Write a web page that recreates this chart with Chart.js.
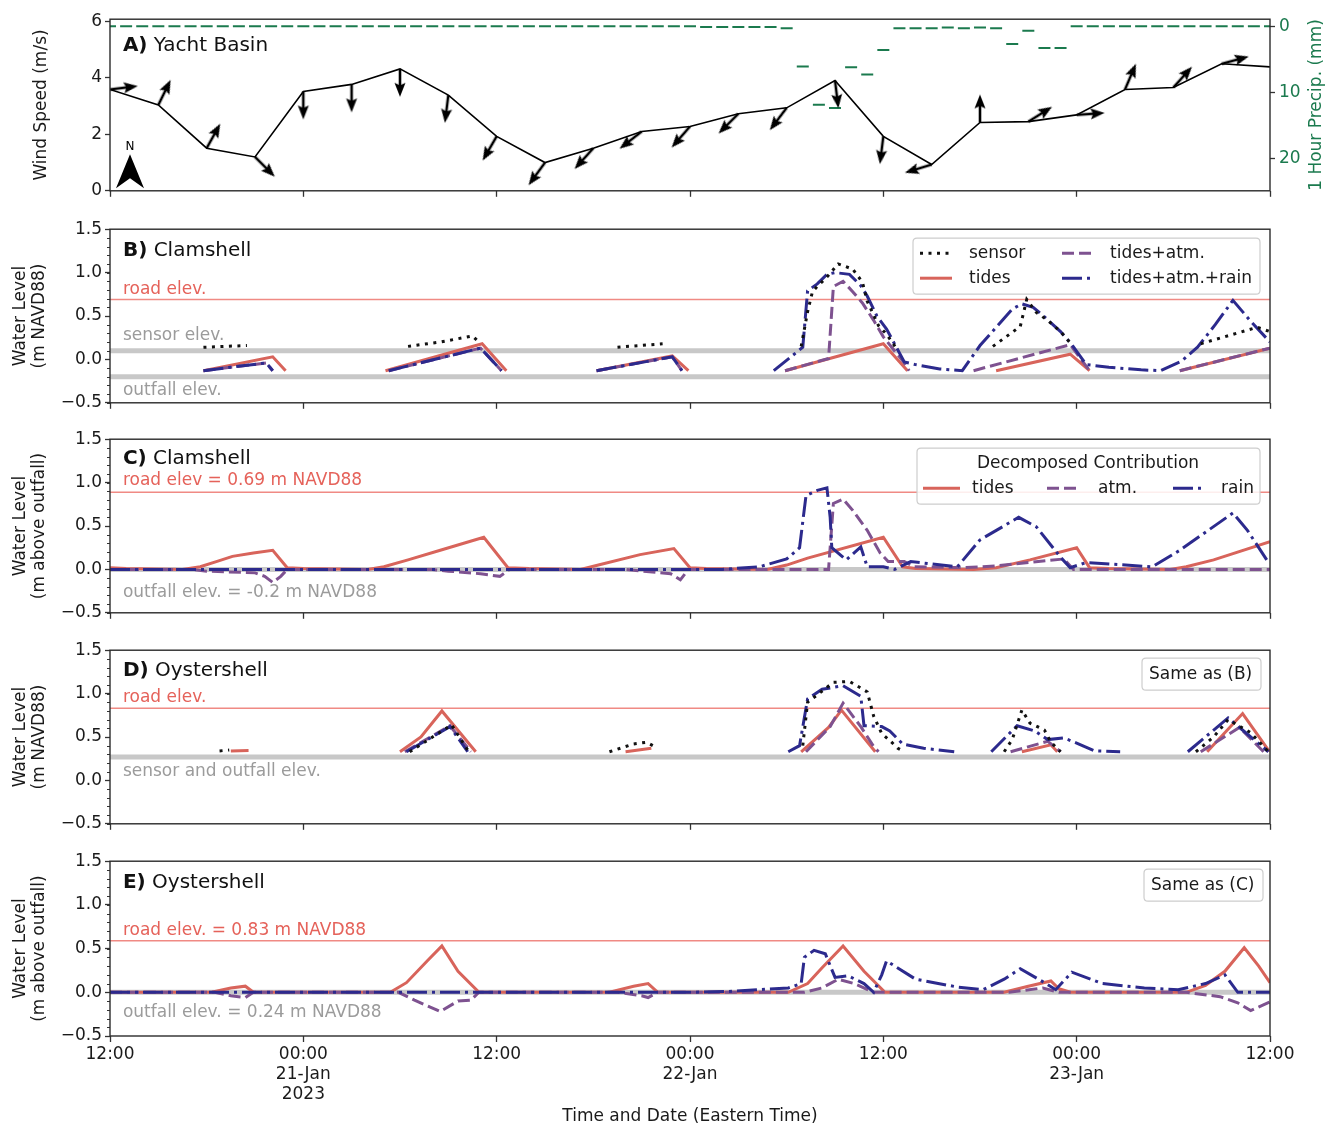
<!DOCTYPE html>
<html>
<head>
<meta charset="utf-8">
<title>Yacht Basin / Clamshell / Oystershell water levels</title>
<script src="https://cdn.jsdelivr.net/npm/chart.js@4.4.1/dist/chart.umd.min.js"></script>
<style>
  body { margin: 0; background: #fff; }
  #wrap { position: relative; width: 1327px; height: 1127px; overflow: hidden; }
  #wrap canvas { position: absolute; left: 0; }
</style>
</head>
<body>
<div id="wrap">
  <canvas id="panelA" width="1327" height="200" style="top:5px"></canvas>
  <canvas id="panelB" width="1327" height="200" style="top:216px"></canvas>
  <canvas id="panelC" width="1327" height="200" style="top:426px"></canvas>
  <canvas id="panelD" width="1327" height="200" style="top:637px"></canvas>
  <canvas id="panelE" width="1327" height="279" style="top:848px"></canvas>
</div>
<script>
// ---------- data (hours since 12:00 20-Jan-2023) ----------

var xTicks = [0, 12, 24, 36, 48, 60, 72];
var xTickLabels = [['12:00'], ['00:00', '21-Jan', '2023'], ['12:00'], ['00:00', '22-Jan'], ['12:00'], ['00:00', '23-Jan'], ['12:00']];
var windTicks = [0, 2, 4, 6];
var precipTicks = [0, 10, 20];
var levelTicks = [-0.5, 0, 0.5, 1, 1.5];

// panel A - wind every 3 h, direction the arrow points to (deg clockwise from north)
var windTimes = [0, 3, 6, 9, 12, 15, 18, 21, 24, 27, 30, 33, 36, 39, 42, 45, 48, 51, 54, 57, 60, 63, 66, 69, 72];
var windSpeed = [3.59, 3.04, 1.51, 1.20, 3.52, 3.77, 4.32, 3.39, 1.93, 1.00, 1.51, 2.10, 2.28, 2.73, 2.94, 3.91, 1.93, 0.93, 2.42, 2.45, 2.69, 3.59, 3.66, 4.50, 4.39];
var windDir = [83, 26, 29, 135, 180, 180, 180, 187, 210, 216, 222, 232, 221, 225, 217, 173, 187, 253, 0, 58, 86, 23, 42, 75, null];

// hourly precipitation (mm), h0..h72
var precipHours = [];
for (var h = 0; h <= 72; h++) precipHours.push(h);
var precip = [0, 0, 0, 0, 0, 0, 0, 0, 0, 0, 0, 0, 0, 0, 0, 0, 0, 0, 0, 0,
  0, 0, 0, 0, 0, 0, 0, 0, 0, 0, 0, 0, 0, 0, 0, 0, 0,
  0.1, 0.1, 0.1, 0.1, 0.1, 0.3, 6.1, 11.9, 12.4, 6.2, 7.3, 3.6,
  0.3, 0.3, 0.3, 0.2, 0.3, 0.2, 0.3, 2.7, 0.7, 3.3, 3.3,
  0, 0, 0, 0, 0, 0, 0, 0, 0, 0, 0, 0, 0];

// reference elevations
var roadB = 0.69, sensorB = 0.10, outfallB = -0.2;
var roadC = 0.89, outfallC = 0;
var roadD = 0.83, sensorD = 0.27;
var roadE = 0.59, outfallE = 0;

// panel B - Clamshell, m NAVD88  [hour, level]
var bSensor = [[5.8, 0.14], [8.5, 0.16], [9, null], [18.5, 0.15], [20.5, 0.2], [22.5, 0.27], [22.9, 0.2], [23, null],
  [31.5, 0.14], [34.3, 0.18], [35, null], [42.9, 0.15], [43.3, 0.55], [43.6, 0.78], [43.9, 0.84], [44.5, 0.95],
  [45.2, 1.10], [46.1, 1.04], [46.7, 0.89], [47.0, 0.67], [47.7, 0.39], [48.2, 0.29], [48.8, 0.13], [49, null],
  [54.8, 0.15], [56.5, 0.38], [56.9, 0.69], [57.5, 0.54], [58.2, 0.45], [59.0, 0.32], [59.7, 0.17], [60, null],
  [67.7, 0.18], [71.2, 0.37], [72, 0.32]];
var bTides = [[5.8, -0.13], [10.1, 0.03], [10.9, -0.13], [11, null], [17.1, -0.13], [23.1, 0.18], [24.6, -0.13], [25, null],
  [30.2, -0.13], [34.9, 0.04], [35.9, -0.13], [36, null], [41.9, -0.13], [48.0, 0.18], [49.5, -0.13], [50, null],
  [55.0, -0.13], [59.6, 0.06], [60.8, -0.13], [61, null], [66.4, -0.13], [72, 0.13]];
var bAtm = [[5.8, -0.13], [9.7, -0.04], [10.1, -0.13], [11, null], [17.3, -0.13], [23.0, 0.13], [24.3, -0.13], [25, null],
  [30.2, -0.13], [34.9, 0.03], [35.5, -0.13], [36, null], [41.9, -0.13], [44.6, 0.01], [44.9, 0.84], [45.5, 0.90],
  [46.1, 0.78], [46.7, 0.65], [47.4, 0.45], [48.0, 0.26], [49.3, -0.04], [49.6, -0.13], [50, null],
  [53.6, -0.13], [59.6, 0.17], [60.8, -0.13], [61, null], [66.4, -0.13], [72, 0.13]];
var bRain = [[5.8, -0.13], [9.7, -0.04], [10.1, -0.13], [11, null], [17.3, -0.13], [23.0, 0.13], [24.3, -0.13], [25, null],
  [30.2, -0.13], [34.9, 0.03], [35.5, -0.13], [36, null], [41.2, -0.13], [43.0, 0.14], [43.3, 0.79], [43.9, 0.87],
  [44.5, 0.98], [45.0, 1.0], [45.9, 0.98], [46.6, 0.85], [47.0, 0.73], [47.6, 0.50], [48.2, 0.35], [49.3, -0.03],
  [50.0, -0.06], [51.5, -0.11], [52.9, -0.13], [54.0, 0.16], [55.0, 0.37], [56.0, 0.58], [56.6, 0.64], [57.3, 0.60],
  [58.0, 0.49], [59.0, 0.32], [59.7, 0.17], [60.6, -0.06], [62.0, -0.09], [64.0, -0.12], [65.2, -0.13], [66.5, -0.02],
  [67.5, 0.14], [68.6, 0.40], [69.7, 0.68], [70.8, 0.44], [72, 0.20]];

// panel C - Clamshell decomposed, m above outfall
var cTides = [[0, 0.02], [1, 0.01], [4.5, 0.0], [5.6, 0.03], [6.6, 0.09], [7.6, 0.15], [8.9, 0.19], [10.1, 0.22], [11.0, 0.02],
  [12, 0.01], [16, 0.0], [17, 0.03], [18.5, 0.11], [20.5, 0.22], [23.2, 0.37], [24.7, 0.02], [26, 0.01], [29.2, 0.0],
  [30.5, 0.06], [32.9, 0.17], [35, 0.24], [36, 0.02], [37, 0.01], [40.8, 0.0], [42, 0.05], [43.3, 0.13], [48, 0.37],
  [49.2, 0.03], [50, 0.01], [53.6, 0.0], [55, 0.02], [57.1, 0.11], [60, 0.25], [60.8, 0.02], [62, 0.01], [65.8, 0.0],
  [66.8, 0.03], [68.5, 0.11], [72, 0.32]];
var cAtm = [[0, 0.0], [5, 0.0], [6, -0.02], [9, -0.04], [9.6, -0.08], [10.1, -0.15], [10.6, -0.08], [11, 0.0], [20, 0.0],
  [21, -0.02], [23, -0.05], [24.2, -0.08], [24.8, 0.0], [32, 0.0], [33, -0.02], [34.8, -0.05], [35.4, -0.12], [35.9, 0.0],
  [44.6, 0.0], [44.9, 0.76], [45.5, 0.81], [46.1, 0.68], [47.0, 0.45], [47.8, 0.19], [48.3, 0.09], [49.3, 0.09],
  [49.9, 0.03], [53, 0.02], [55, 0.04], [57, 0.08], [59.2, 0.12], [59.8, 0.0], [72, 0.0]];
var cRain = [[0, 0.0], [38, 0.0], [40.3, 0.03], [42, 0.12], [42.8, 0.25], [43.0, 0.55], [43.2, 0.85], [43.9, 0.91],
  [44.5, 0.94], [44.7, 0.6], [44.8, 0.25], [45.7, 0.11], [46.6, 0.26], [47.0, 0.03], [48.0, 0.03], [48.7, 0.0],
  [49.7, 0.09], [52.6, 0.03], [54.0, 0.34], [56.4, 0.60], [57.5, 0.49], [59.0, 0.14], [59.6, 0.02], [60.6, 0.08],
  [64.7, 0.03], [66.4, 0.22], [69.7, 0.65], [70.6, 0.45], [71.9, 0.08], [72, 0.07]];

// panel D - Oystershell, m NAVD88
var dSensor = [[6.8, 0.34], [7.4, 0.35], [8, null], [18.6, 0.33], [21.2, 0.64], [22.2, 0.35], [23, null],
  [31.0, 0.33], [32.5, 0.42], [33.3, 0.44], [33.7, 0.40], [34, null], [43.0, 0.40], [43.3, 0.90], [44.9, 1.13],
  [45.9, 1.14], [47.0, 1.02], [47.4, 0.74], [47.9, 0.54], [48.4, 0.46], [48.9, 0.37], [49.3, 0.33], [50, null],
  [55.5, 0.33], [56.0, 0.47], [56.6, 0.81], [57.1, 0.66], [58.0, 0.58], [58.4, 0.44], [59.0, 0.33], [60, null],
  [67.4, 0.33], [68.5, 0.50], [69.4, 0.70], [70.8, 0.55], [71.9, 0.33]];
var dTides = [[7.5, 0.34], [8.6, 0.345], [9, null], [18.0, 0.33], [19.3, 0.50], [20.6, 0.80], [22.7, 0.33], [23, null],
  [32.0, 0.33], [33.6, 0.37], [34, null], [42.9, 0.33], [44.6, 0.61], [45.4, 0.81], [47.5, 0.33], [48, null],
  [56.6, 0.33], [58.4, 0.41], [58.8, 0.33], [59, null], [68.1, 0.33], [70.3, 0.77], [71.9, 0.35], [72, 0.34]];
var dAtm = [[18.3, 0.33], [21.1, 0.63], [22.4, 0.33], [23, null], [43.2, 0.33], [44.7, 0.62], [45.5, 0.89], [46.6, 0.62],
  [47.4, 0.39], [47.7, 0.33], [48, null], [55.9, 0.33], [58.2, 0.45], [58.7, 0.38], [59.0, 0.33], [60, null],
  [67.7, 0.33], [70.1, 0.61], [71.6, 0.33]];
var dRain = [[18.4, 0.33], [21.1, 0.62], [22.2, 0.33], [23, null], [42.1, 0.33], [42.8, 0.40], [43.3, 0.94], [44.2, 1.05],
  [45.5, 1.09], [46.6, 0.97], [46.8, 0.63], [47.9, 0.62], [48.4, 0.57], [49.2, 0.42], [50.5, 0.37], [52.4, 0.33], [53, null],
  [54.7, 0.33], [56.3, 0.63], [57.4, 0.57], [58.2, 0.47], [59.2, 0.49], [60.0, 0.43], [61.1, 0.34], [62.7, 0.33], [63, null],
  [66.9, 0.33], [69.4, 0.72], [71.9, 0.33]];

// panel E - Oystershell decomposed, m above outfall
var eTides = [[0, 0], [6.3, 0], [7.5, 0.05], [8.4, 0.07], [8.9, 0], [17.4, 0], [18.4, 0.11], [19.7, 0.36], [20.6, 0.53],
  [21.6, 0.24], [22.9, 0], [31.0, 0], [32.5, 0.07], [33.4, 0.10], [34.0, 0], [42.1, 0], [43.3, 0.1], [44.2, 0.28],
  [45.5, 0.53], [46.8, 0.24], [48.1, 0], [55.5, 0], [57.0, 0.07], [58.4, 0.13], [58.9, 0.04], [59.6, 0], [66.8, 0],
  [68.0, 0.08], [69.2, 0.24], [70.4, 0.51], [71.3, 0.3], [72, 0.11]];
var eAtm = [[0, 0], [6.5, 0], [7.5, -0.04], [8.4, -0.06], [8.9, 0], [17.9, 0], [18.9, -0.09], [20.5, -0.22], [21.6, -0.1],
  [22.4, -0.09], [22.9, 0], [31.5, 0], [33.0, -0.04], [33.4, -0.06], [34.0, 0], [43.1, 0], [44.2, 0.05], [45.2, 0.15],
  [46.2, 0.1], [47.4, 0], [55.8, 0], [57.9, 0.05], [58.9, 0], [66.8, 0], [68.9, -0.05], [70.0, -0.12], [70.8, -0.21], [72, -0.11]];
var eRain = [[0, 0], [36, 0], [38.4, 0.01], [42.1, 0.05], [42.9, 0.1], [43.1, 0.4], [43.7, 0.48], [44.4, 0.44], [45.0, 0.17],
  [45.8, 0.19], [46.8, 0.1], [47.4, 0.0], [47.9, 0.2], [48.2, 0.36], [50.0, 0.15], [52.6, 0.06], [54.2, 0.03], [55.5, 0.15],
  [56.5, 0.27], [58.1, 0.1], [58.7, 0.03], [59.7, 0.23], [61.6, 0.1], [64.2, 0.05], [66.3, 0.03], [68.0, 0.1], [69.2, 0.2],
  [70.0, 0.0], [72, 0.0]];

// ---------- styles ----------
Chart.defaults.font.family = '"DejaVu Sans", sans-serif';
Chart.defaults.font.size = 17;
Chart.defaults.color = '#1a1a1a';

var green = '#1b7a4e';
var roadColor = '#f08a84', roadText = '#e5625a', grayLine = '#c8c8c8', grayText = '#9b9b9b';
var styles = {
  sensor: { color: '#111111', width: 3, dash: [3, 5.5] },
  tides: { color: '#d8645b', width: 3, dash: [] },
  atm: { color: '#7e5290', width: 3, dash: [12, 5] },
  rain: { color: '#2c2a8d', width: 3, dash: [20, 5, 3, 5] }
};

function pts(arr) {
  return arr.map(function (p) { return { x: p[0], y: p[1] }; });
}

function fmtLevel(v) {
  return (v < 0 ? '\u2212' : '') + Math.abs(v).toFixed(1);
}

function series(arr, st, order) {
  return { data: pts(arr), borderColor: st.color, borderWidth: st.width, borderDash: st.dash,
    pointRadius: 0, order: order };
}

function flat(v, color, width) {
  return { data: [{ x: 0, y: v }, { x: 72, y: v }], borderColor: color, borderWidth: width, pointRadius: 0, order: 10 };
}

// arrow drawn from the centre of a small canvas, pointing up; rotated per point by Chart.js
function arrowImage() {
  var c = document.createElement('canvas');
  c.width = 64; c.height = 64;
  var g = c.getContext('2d');
  g.strokeStyle = '#000';
  g.fillStyle = '#000';
  g.lineWidth = 2.6;
  g.beginPath(); g.moveTo(32, 32); g.lineTo(32, 15); g.stroke();
  g.beginPath();
  g.moveTo(32, 4); g.lineTo(26.5, 18); g.lineTo(32, 15.5); g.lineTo(37.5, 18);
  g.closePath(); g.fill();
  return c;
}
var arrow = arrowImage();

function roundBox(ctx, x, y, w, h, r) {
  ctx.beginPath();
  ctx.moveTo(x + r, y);
  ctx.lineTo(x + w - r, y); ctx.quadraticCurveTo(x + w, y, x + w, y + r);
  ctx.lineTo(x + w, y + h - r); ctx.quadraticCurveTo(x + w, y + h, x + w - r, y + h);
  ctx.lineTo(x + r, y + h); ctx.quadraticCurveTo(x, y + h, x, y + h - r);
  ctx.lineTo(x, y + r); ctx.quadraticCurveTo(x, y, x + r, y);
  ctx.closePath();
}

function drawLegend(ctx, a, lg) {
  var y0 = a.top, b = lg.box;
  ctx.fillStyle = 'rgba(255,255,255,0.85)';
  ctx.strokeStyle = '#cdcdcd';
  ctx.lineWidth = 1.2;
  roundBox(ctx, b[0], y0 + b[1], b[2] - b[0], b[3] - b[1], 4);
  ctx.fill(); ctx.stroke();
  ctx.font = '17px "DejaVu Sans"';
  ctx.textBaseline = 'middle';
  if (lg.title) {
    ctx.fillStyle = '#1a1a1a';
    ctx.textAlign = 'center';
    ctx.fillText(lg.title.text, lg.title.x, y0 + lg.title.y);
  }
  ctx.textAlign = 'left';
  (lg.items || []).forEach(function (it) {
    if (it.style) {
      var st = styles[it.style];
      ctx.strokeStyle = st.color;
      ctx.lineWidth = st.width;
      ctx.setLineDash(st.dash);
      ctx.beginPath(); ctx.moveTo(it.h[0], y0 + it.y); ctx.lineTo(it.h[1], y0 + it.y); ctx.stroke();
      ctx.setLineDash([]);
    }
    ctx.fillStyle = '#1a1a1a';
    ctx.fillText(it.label, it.tx, y0 + it.y);
  });
}

// frame, minor ticks, in-panel texts and legends
var decor = {
  id: 'decor',
  afterDraw: function (chart, args, o) {
    var ctx = chart.ctx, a = chart.chartArea, xs = chart.scales.x, ys = chart.scales.y;
    ctx.save();
    if (o.minor) {
      ctx.strokeStyle = '#333';
      ctx.lineWidth = 1;
      for (var v = ys.min; v <= ys.max + 1e-9; v += o.minor) {
        var yy = Math.round(ys.getPixelForValue(v)) + 0.5;
        ctx.beginPath(); ctx.moveTo(a.left - 3, yy); ctx.lineTo(a.left, yy); ctx.stroke();
      }
    }
    ctx.strokeStyle = '#2b2b2b';
    ctx.lineWidth = 1.4;
    ctx.strokeRect(a.left, a.top, a.right - a.left, a.bottom - a.top);

    ctx.textBaseline = 'middle';
    ctx.textAlign = 'left';
    (o.texts || []).forEach(function (t) {
      var x = xs.getPixelForValue(t.x), y = ys.getPixelForValue(t.y);
      t.parts.forEach(function (p) {
        ctx.font = (p.bold ? 'bold ' : '') + t.size + 'px "DejaVu Sans"';
        ctx.fillStyle = t.color;
        ctx.fillText(p.t, x, y);
        x += ctx.measureText(p.t).width;
      });
    });

    if (o.legend) drawLegend(ctx, a, o.legend);

    if (o.north) {
      ctx.fillStyle = '#000';
      ctx.beginPath();
      ctx.moveTo(130, a.top + 135);
      ctx.lineTo(144, a.top + 169);
      ctx.lineTo(130, a.top + 159);
      ctx.lineTo(116, a.top + 169);
      ctx.closePath(); ctx.fill();
      ctx.font = '12px "DejaVu Sans"';
      ctx.textAlign = 'center';
      ctx.fillText('N', 130, a.top + 128);
    }
    if (o.rightTitle) {
      ctx.translate(o.rightTitle.x, (a.top + a.bottom) / 2);
      ctx.rotate(-Math.PI / 2);
      ctx.font = '17px "DejaVu Sans"';
      ctx.textAlign = 'center';
      ctx.fillStyle = o.rightTitle.color;
      ctx.fillText(o.rightTitle.text, 0, 0);
    }
    ctx.restore();
  }
};

function xAxis(showLabels) {
  return {
    type: 'linear', min: 0, max: 72,
    afterBuildTicks: function (ax) { ax.ticks = xTicks.map(function (v) { return { value: v }; }); },
    afterFit: function (ax) { ax.height = showLabels ? 91 : 12; },
    grid: { drawOnChartArea: false, drawTicks: true, tickLength: 6, tickColor: '#333', tickWidth: 1.3 },
    border: { display: false },
    ticks: { display: showLabels, padding: 3, maxRotation: 0, autoSkip: false,
      font: { size: 17, lineHeight: '20px' },
      callback: function (v, i) { return xTickLabels[i]; } },
    title: { display: showLabels, text: 'Time and Date (Eastern Time)',
      font: { size: 17, lineHeight: '19px' }, padding: { top: 0, bottom: 0.5 } }
  };
}

function levelAxis(title) {
  return {
    min: -0.5, max: 1.5,
    afterBuildTicks: function (ax) { ax.ticks = levelTicks.map(function (v) { return { value: v }; }); },
    afterFit: function (ax) { ax.width = 110; },
    grid: { drawOnChartArea: false, tickLength: 5, tickColor: '#333', tickWidth: 1.3 },
    border: { display: false },
    ticks: { padding: 3, callback: fmtLevel },
    title: { display: true, text: title, font: { size: 17, lineHeight: '19px' }, padding: { top: 11.5, bottom: 0 } }
  };
}

function baseOptions(scales, deco, padRight) {
  return {
    responsive: false, animation: false, events: [],
    layout: { padding: { top: 12, right: padRight, left: 0, bottom: 0 } },
    plugins: { legend: { display: false }, tooltip: { enabled: false }, decor: deco },
    scales: scales
  };
}

function title(letter, name, y) {
  return { parts: [{ t: letter + ')', bold: true }, { t: ' ' + name }], x: 0.8, y: y, size: 20, color: '#111' };
}
function note(text, y, color) {
  return { parts: [{ t: text }], x: 0.8, y: y, size: 17, color: color };
}

// ---------- A: wind and precipitation ----------
new Chart(document.getElementById('panelA'), {
  type: 'line',
  data: {
    datasets: [
      { data: windTimes.map(function (t, i) { return { x: t, y: windSpeed[i] }; }),
        borderColor: '#000', borderWidth: 1.6, pointStyle: arrow,
        pointRadius: function (c) { return windDir[c.dataIndex] === null ? 0 : 3; },
        pointRotation: function (c) { return windDir[c.dataIndex] || 0; },
        order: 1 },
      { data: precipHours.map(function (t, i) { return { x: t, y: precip[i] }; }),
        yAxisID: 'y2', showLine: false, pointStyle: 'line', pointRadius: 6,
        pointBorderWidth: 2, pointBorderColor: green, borderColor: green, order: 2 }
    ]
  },
  options: baseOptions({
    x: xAxis(false),
    y: {
      min: 0, max: 6.08,
      afterBuildTicks: function (ax) { ax.ticks = windTicks.map(function (v) { return { value: v }; }); },
      afterFit: function (ax) { ax.width = 110; },
      grid: { drawOnChartArea: false, tickLength: 5, tickColor: '#333', tickWidth: 1.3 },
      border: { display: false },
      ticks: { padding: 3 },
      title: { display: true, text: 'Wind Speed (m/s)', font: { size: 17, lineHeight: '19px' }, padding: { top: 32, bottom: 0 } }
    },
    y2: {
      position: 'right', reverse: true, min: -1.07, max: 24.96,
      afterBuildTicks: function (ax) { ax.ticks = precipTicks.map(function (v) { return { value: v }; }); },
      afterFit: function (ax) { ax.width = 57; },
      grid: { drawOnChartArea: false, tickLength: 5, tickColor: '#333', tickWidth: 1.3 },
      border: { display: false },
      ticks: { padding: 4, color: green }
    }
  }, {
    texts: [title('A', 'Yacht Basin', 5.12)],
    north: true,
    rightTitle: { text: '1 Hour Precip. (mm)', x: 1317, color: green }
  }, 0),
  plugins: [decor]
});

// ---------- B: Clamshell, NAVD88 ----------
new Chart(document.getElementById('panelB'), {
  type: 'line',
  data: {
    datasets: [
      flat(roadB, roadColor, 1.5), flat(sensorB, grayLine, 5), flat(outfallB, grayLine, 5),
      series(bSensor, styles.sensor, 1), series(bRain, styles.rain, 2),
      series(bAtm, styles.atm, 3), series(bTides, styles.tides, 4)
    ]
  },
  options: baseOptions({ x: xAxis(false), y: levelAxis(['Water Level', '(m NAVD88)']) }, {
    minor: 0.1,
    texts: [title('B', 'Clamshell', 1.25), note('road elev.', 0.80, roadText),
      note('sensor elev.', 0.27, grayText), note('outfall elev.', -0.36, grayText)],
    legend: {
      box: [913, 9, 1260, 65],
      items: [
        { label: 'sensor', style: 'sensor', h: [920, 952], tx: 969, y: 24 },
        { label: 'tides+atm.', style: 'atm', h: [1062, 1094], tx: 1110, y: 24 },
        { label: 'tides', style: 'tides', h: [920, 952], tx: 969, y: 49 },
        { label: 'tides+atm.+rain', style: 'rain', h: [1062, 1094], tx: 1110, y: 49 }
      ]
    }
  }, 57),
  plugins: [decor]
});

// ---------- C: Clamshell, decomposed ----------
new Chart(document.getElementById('panelC'), {
  type: 'line',
  data: {
    datasets: [
      flat(roadC, roadColor, 1.5), flat(outfallC, grayLine, 5),
      series(cRain, styles.rain, 1), series(cAtm, styles.atm, 2), series(cTides, styles.tides, 3)
    ]
  },
  options: baseOptions({ x: xAxis(false), y: levelAxis(['Water Level', '(m above outfall)']) }, {
    minor: 0.1,
    texts: [title('C', 'Clamshell', 1.275), note('road elev = 0.69 m NAVD88', 1.02, roadText),
      note('outfall elev. = -0.2 m NAVD88', -0.27, grayText)],
    legend: {
      box: [917, 9, 1260, 65],
      title: { text: 'Decomposed Contribution', x: 1088, y: 24 },
      items: [
        { label: 'tides', style: 'tides', h: [923, 960], tx: 972, y: 49 },
        { label: 'atm.', style: 'atm', h: [1047, 1081], tx: 1098, y: 49 },
        { label: 'rain', style: 'rain', h: [1173, 1205], tx: 1221, y: 49 }
      ]
    }
  }, 57),
  plugins: [decor]
});

// ---------- D: Oystershell, NAVD88 ----------
new Chart(document.getElementById('panelD'), {
  type: 'line',
  data: {
    datasets: [
      flat(roadD, roadColor, 1.5), flat(sensorD, grayLine, 5),
      series(dSensor, styles.sensor, 1), series(dRain, styles.rain, 2),
      series(dAtm, styles.atm, 3), series(dTides, styles.tides, 4)
    ]
  },
  options: baseOptions({ x: xAxis(false), y: levelAxis(['Water Level', '(m NAVD88)']) }, {
    minor: 0.1,
    texts: [title('D', 'Oystershell', 1.26), note('road elev.', 0.95, roadText),
      note('sensor and outfall elev.', 0.10, grayText)],
    legend: { box: [1142, 8, 1261, 40], items: [{ label: 'Same as (B)', tx: 1149, y: 24 }] }
  }, 57),
  plugins: [decor]
});

// ---------- E: Oystershell, decomposed ----------
new Chart(document.getElementById('panelE'), {
  type: 'line',
  data: {
    datasets: [
      flat(roadE, roadColor, 1.5), flat(outfallE, grayLine, 5),
      series(eRain, styles.rain, 1), series(eAtm, styles.atm, 2), series(eTides, styles.tides, 3)
    ]
  },
  options: baseOptions({ x: xAxis(true), y: levelAxis(['Water Level', '(m above outfall)']) }, {
    minor: 0.1,
    texts: [title('E', 'Oystershell', 1.254), note('road elev. = 0.83 m NAVD88', 0.71, roadText),
      note('outfall elev. = 0.24 m NAVD88', -0.23, grayText)],
    legend: { box: [1144, 8, 1263, 40], items: [{ label: 'Same as (C)', tx: 1151, y: 24 }] }
  }, 57),
  plugins: [decor]
});
</script>
</body>
</html>
